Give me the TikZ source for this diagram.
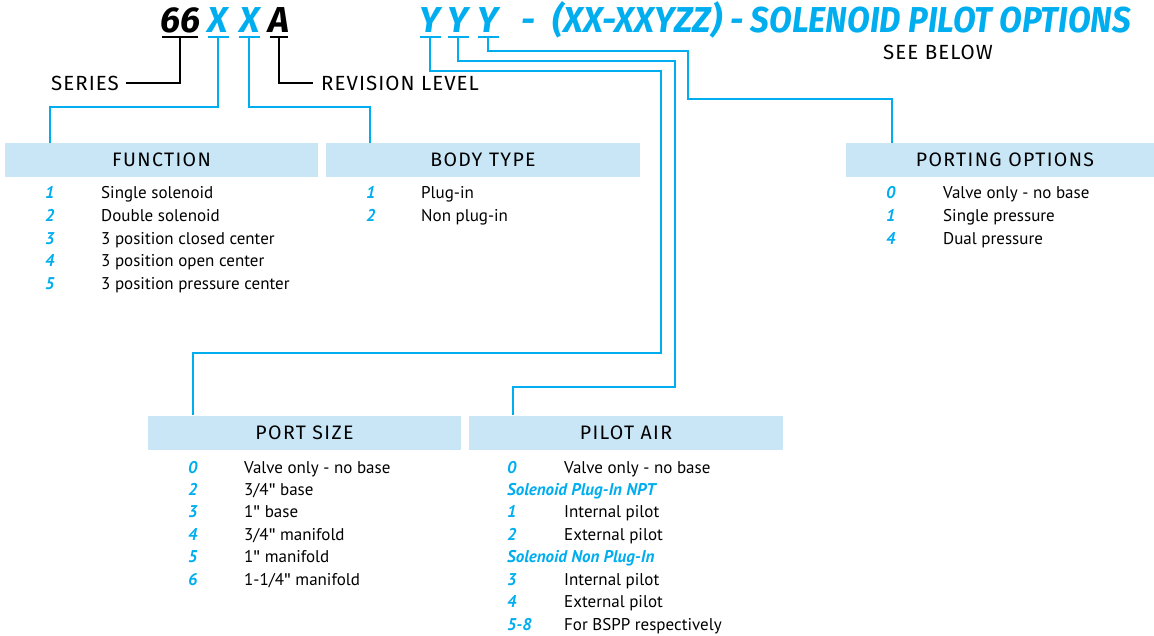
\documentclass[tikz,border=0pt]{standalone}
\usepackage{fontspec}
\setmainfont{PT Sans}
\newfontfamily\titlefont{Fira Sans}
\newfontfamily\hdrfont[LetterSpace=7]{Fira Sans}
\newfontfamily\lblfont[LetterSpace=5]{Fira Sans}
\newcommand\inch{{\titlefont\symbol{34}}}
\usetikzlibrary{calc}
\definecolor{codeblue}{HTML}{00AEEF}
\definecolor{hdrfill}{HTML}{C9E6F7}
\tikzset{
  blueline/.style = {draw=codeblue, line width=2.6pt},
  blackline/.style = {draw=black, line width=2.6pt},
  hdrbox/.style = {fill=hdrfill, minimum height=34pt, inner sep=0pt,
    font=\hdrfont\fontsize{19.5}{21}\selectfont},
  codechar/.style = {anchor=base, inner sep=0pt,
    font=\titlefont\bfseries\itshape\fontsize{36}{40}\selectfont},
  optnum/.style = {anchor=base west, inner sep=0pt, text=codeblue,
    font=\bfseries\itshape\fontsize{17}{19}\selectfont},
  opttext/.style = {anchor=base west, inner sep=0pt,
    font=\fontsize{17}{19}\selectfont},
  labeltext/.style = {inner ysep=0pt, font=\lblfont\fontsize{20.5}{22}\selectfont}
}

\begin{document}
\begin{tikzpicture}[x=1pt, y=-1pt]
  \useasboundingbox (0,0) rectangle (1154,636);

  % model code
  \node[codechar] (c66) at (180,33) {66};
  \node[codechar, text=codeblue] (cx1) at (218,33) {X};
  \node[codechar, text=codeblue] (cx2) at (250,33) {X};
  \node[codechar] (ca) at (279,33) {A};
  \node[codechar, text=codeblue] (cy1) at (430,33) {Y};
  \node[codechar, text=codeblue] (cy2) at (458,33) {Y};
  \node[codechar, text=codeblue] (cy3) at (488,33) {Y};
  \node[codechar, anchor=base west, text=codeblue] (crest) at (521,33)
    {\scalebox{0.97}[1]{-\enspace(XX-XXYZZ)}};
  \node[codechar, anchor=base east, text=codeblue] (ctitle) at (1131,33)
    {\scalebox{0.92}[1]{- SOLENOID PILOT OPTIONS}};
  \node[labeltext] (seebelow) at (938,52) {SEE BELOW};

  % underlines
  \coordinate (u66) at (180,37);
  \coordinate (ux1) at (218,37);
  \coordinate (ux2) at (249,37);
  \coordinate (ua) at (279,37);
  \coordinate (uy1) at (430,37);
  \coordinate (uy2) at (458,37);
  \coordinate (uy3) at (488,37);
  \draw[blackline] (u66) +(-18,0) -- +(18,0);
  \draw[blackline] (ua) +(-9,0) -- +(9,0);
  \foreach \u in {ux1,ux2,uy1,uy2,uy3}
    \draw[blueline] (\u) +(-10.5,0) -- +(10.5,0);

  \node[labeltext, anchor=east, inner xsep=7pt] (series) at (126,83) {SERIES};
  \node[labeltext, anchor=west, inner xsep=8pt] (revision) at (313,83) {REVISION LEVEL};

  % header boxes
  \node[hdrbox, minimum width=313pt] (function) at (161.5,160) {FUNCTION};
  \node[hdrbox, minimum width=314pt] (bodytype) at (483,160) {BODY TYPE};
  \node[hdrbox, minimum width=318pt] (porting) at (1005,160) {PORTING OPTIONS};
  \node[hdrbox, minimum width=313pt] (portsize) at (304.5,432.5) {PORT SIZE};
  \node[hdrbox, minimum width=314pt] (pilotair) at (626,432.5) {PILOT AIR};

  % connectors
  \draw[blackline] (u66) |- (series.east);
  \draw[blackline] (ua) |- (revision.west);
  \draw[blueline] (ux1) -- ++(0,70) -| ($(function.north west)+(45,0)$);
  \draw[blueline] (ux2) -- ++(0,70) -| ($(bodytype.north west)+(44,0)$);
  \draw[blueline] (uy1) -- ++(0,34) -| ++(231,282) -| ($(portsize.north west)+(45,0)$);
  \draw[blueline] (uy2) -- ++(0,24) -| ++(217,326) -| ($(pilotair.north west)+(44,0)$);
  \draw[blueline] (uy3) -- ++(0,14) -| ++(200,48) -| ($(porting.north west)+(46,0)$);

  % option lists
  \foreach \n/\t [count=\i] in {1/Single solenoid, 2/Double solenoid,
      3/3 position closed center, 4/3 position open center,
      5/3 position pressure center} {
    \node[optnum] (fn\i) at (45,{199+22.6*(\i-1)}) {\n};
    \node[opttext] (ft\i) at (101,{199+22.6*(\i-1)}) {\t};
  }
  \foreach \n/\t [count=\i] in {1/Plug-in, 2/Non plug-in} {
    \node[optnum] (bn\i) at (366,{199+22.6*(\i-1)}) {\n};
    \node[opttext] (bt\i) at (421,{199+22.6*(\i-1)}) {\t};
  }
  \foreach \n/\t [count=\i] in {0/Valve only - no base, 1/Single pressure,
      4/Dual pressure} {
    \node[optnum] (on\i) at (886,{199+22.6*(\i-1)}) {\n};
    \node[opttext] (ot\i) at (943,{199+22.6*(\i-1)}) {\t};
  }
  \foreach \n/\t [count=\i] in {0/{Valve only - no base}, 2/{3/4\inch{} base},
      3/{1\inch{} base}, 4/{3/4\inch{} manifold}, 5/{1\inch{} manifold},
      6/{1-1/4\inch{} manifold}} {
    \node[optnum] (sn\i) at (188,{473+22.45*(\i-1)}) {\n};
    \node[opttext] (st\i) at (244,{473+22.45*(\i-1)}) {\t};
  }
  \foreach \n/\t [count=\i] in {0/Valve only - no base, {}/{},
      1/Internal pilot, 2/External pilot, {}/{},
      3/Internal pilot, 4/External pilot, 5-8/For BSPP respectively} {
    \node[optnum] (pn\i) at (507,{473+22.45*(\i-1)}) {\n};
    \node[opttext] (pt\i) at (564,{473+22.45*(\i-1)}) {\t};
  }
  \node[optnum] (plugnpt) at (507,{473+22.45}) {Solenoid Plug-In NPT};
  \node[optnum] (nonplug) at (507,{473+22.45*4}) {Solenoid Non Plug-In};
\end{tikzpicture}
\end{document}
